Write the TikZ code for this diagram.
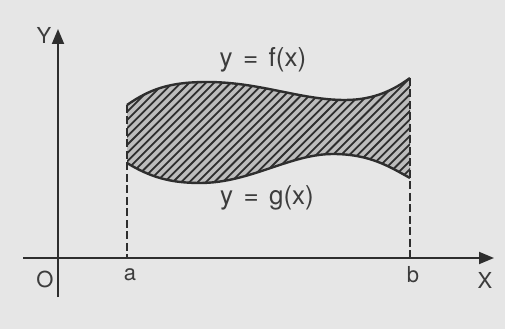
\documentclass[tikz,border=0pt]{standalone}
\usepackage{fontspec}
\setmainfont{TeX Gyre Heros}
\usetikzlibrary{arrows.meta}
\definecolor{paper}{HTML}{E6E6E6}
\definecolor{ink}{HTML}{2E2E2E}
\definecolor{inkt}{HTML}{3C3C3C}
\definecolor{hatchbg}{HTML}{BDBDBD}
\begin{document}
\begin{tikzpicture}[x=1pt,y=1pt,font=\fontsize{22}{24}\selectfont,
   axis/.style={draw=ink,line width=1.8pt,-{Triangle[length=15pt,width=12pt]}},
   bound/.style={draw=ink,line width=2.4pt},
   drop/.style={draw=ink,line width=1.8pt,dash pattern=on 8pt off 3.5pt},
   hatch/.style={draw=ink,line width=1.8pt},
   lbl/.style={text=inkt,inner sep=0pt},
   curvelbl/.style={lbl,font=\fontsize{26}{28}\selectfont}]
\fill[paper] (0,0) rectangle (505,329);
\useasboundingbox (0,0) rectangle (505,329);
% axes
\coordinate (O) at (58,71);
\coordinate (xs) at (23,71); \coordinate (xe) at (494,71);
\coordinate (ys) at (58,32); \coordinate (ye) at (58,300);
\draw[axis] (xs) -- (xe);
\draw[axis] (ys) -- (ye);
% ends of f and g, feet on the x axis
\coordinate (fa) at (127,224); \coordinate (fb) at (410,251);
\coordinate (ga) at (127,166); \coordinate (gb) at (410,151);
\coordinate (a) at (127,71); \coordinate (b) at (410,71);
% region between the curves
\path[save path=\fishpath] (fa) .. controls (150,240) and (170,247) .. (207,247)
   .. controls (260,247) and (300,229) .. (345,229)
   .. controls (375,229) and (395,240) .. (fb) -- (gb)
   .. controls (390,162) and (370,175) .. (333,175)
   .. controls (290,175) and (250,146) .. (200,146)
   .. controls (170,146) and (150,152) .. (ga) -- cycle;
\fill[hatchbg,use path=\fishpath];
\begin{scope}
  \clip[use path=\fishpath];
  \foreach \s in {-10,-1.7,...,420}{\draw[hatch] (\s,130) -- ++(135,135);}
\end{scope}
% the two curves
\draw[bound] (fa) .. controls (150,240) and (170,247) .. (207,247)
   .. controls (260,247) and (300,229) .. (345,229)
   .. controls (375,229) and (395,240) .. (fb);
\draw[bound] (ga) .. controls (150,152) and (170,146) .. (200,146)
   .. controls (250,146) and (290,175) .. (333,175)
   .. controls (370,175) and (390,162) .. (gb);
% dashed verticals at a and b
\draw[drop] (fa) -- (a);
\draw[drop] (fb) -- (b);
% labels
\node[curvelbl] (flab) at (263,269) {y\hspace{0.4em}=\hspace{0.4em}f(x)};
\node[curvelbl] (glab) at (267,131) {y\hspace{0.4em}=\hspace{0.4em}g(x)};
\node[lbl] (ylab) at (44,294) {Y};
\node[lbl] (xlab) at (485,49) {X};
\node[lbl] (olab) at (45,50) {O};
\node[lbl] (alab) at (130,54) {a};
\node[lbl] (blab) at (413,54) {b};
\end{tikzpicture}
\end{document}
